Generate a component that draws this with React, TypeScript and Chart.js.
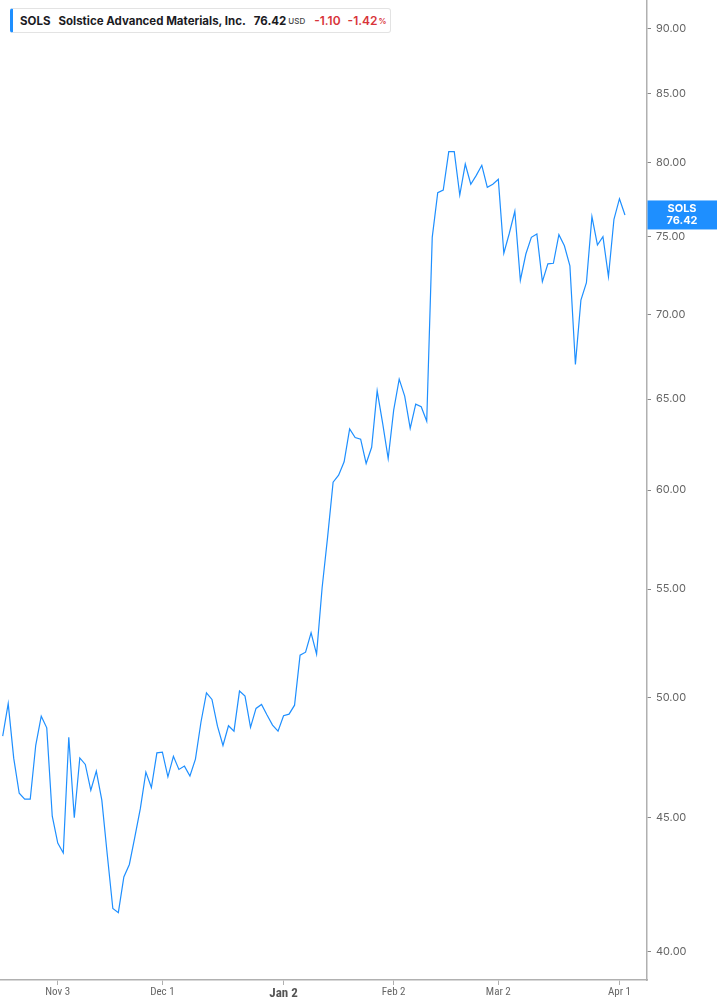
import React, { useEffect, useRef } from "react";
import { Chart, registerables } from "chart.js";

Chart.register(...registerables);

const symbol = "SOLS";
const companyName = "Solstice Advanced Materials, Inc.";
const lastPriceText = "76.42";
const changeText = "-1.10";
const changePctText = "-1.42";

// daily closes, Oct 20 .. Apr 2 (trading days)
const closes = [
  48.33, 49.73, 47.4, 45.96, 45.72, 45.72, 47.94, 49.18, 48.68, 45.04,
  43.99, 43.61, 48.28, 44.98, 47.41, 47.14, 46.08, 46.86, 45.68, 43.52,
  41.53, 41.38, 42.7, 43.17, 44.23, 45.35, 46.82, 46.19, 47.62, 47.65,
  46.63, 47.48, 46.93, 47.07, 46.66, 47.36, 48.92, 50.2, 49.91, 48.75,
  47.93, 48.77, 48.54, 50.28, 50.06, 48.7, 49.52, 49.69, 49.23, 48.8,
  48.54, 49.2, 49.27, 49.66, 51.89, 52.03, 52.92, 51.94, 55.05, 57.57,
  60.42, 60.79, 61.51, 63.32, 62.84, 62.75, 61.42, 62.3, 65.47, 63.62,
  61.69, 64.37, 66.15, 65.17, 63.34, 64.71, 64.56, 63.74, 74.93, 77.93,
  78.11, 80.79, 80.79, 77.77, 79.92, 78.51, 79.13, 79.83, 78.3, 78.51,
  78.85, 73.89, 75.2, 76.67, 72.16, 73.84, 74.93, 75.15, 72.07, 73.2,
  73.24, 75.11, 74.38, 73.07, 67.01, 70.91, 72.0, 76.31, 74.43, 74.97,
  72.39, 76.13, 77.52, 76.42,
];

const xTickIndex = [10, 29, 51, 71, 90, 112];
const xTickLabels = ["Nov 3", "Dec 1", "Jan 2", "Feb 2", "Mar 2", "Apr 1"];
const yTickValues = [40, 45, 50, 55, 60, 65, 70, 75, 80, 85, 90];

const BLUE = "#1e8fff";

export default function App() {
  const canvasRef = useRef<HTMLCanvasElement | null>(null);

  useEffect(() => {
    if (!canvasRef.current) return;
    const priceLabel = {
      id: "priceLabel",
      afterDraw(chart: any) {
        const ctx = chart.ctx;
        const ys = chart.scales.y;
        const area = chart.chartArea;
        const v = closes[closes.length - 1];
        const y = ys.getPixelForValue(v);
        ctx.save();
        ctx.fillStyle = BLUE;
        ctx.fillRect(area.right + 0.5, y - 14.5, chart.width - area.right, 29);
        ctx.fillStyle = "#ffffff";
        ctx.font = "bold 11px Inter, 'Noto Sans', sans-serif";
        ctx.textAlign = "center";
        ctx.textBaseline = "middle";
        const cx = (area.right + chart.width) / 2;
        ctx.fillText(symbol, cx, y - 6);
        ctx.fillText(v.toFixed(2), cx, y + 6);
        ctx.restore();
      },
    };

    const chart = new Chart(canvasRef.current, {
      type: "line",
      data: {
        datasets: [
          {
            data: closes.map((c, i) => ({ x: i, y: c })),
            borderColor: BLUE,
            borderWidth: 1.2,
            pointRadius: 0,
            tension: 0,
            fill: false,
          },
        ],
      },
      options: {
        animation: false,
        responsive: false,
        layout: { padding: 0 },
        plugins: {
          legend: { display: false },
          tooltip: { enabled: false },
        },
        scales: {
          x: {
            type: "linear",
            min: -0.49,
            max: 117,
            afterFit: (s: any) => {
              s.height = 25;
              s.paddingLeft = 0;
              s.paddingRight = 0;
            },
            afterBuildTicks: (s: any) => {
              s.ticks = xTickIndex.map((v) => ({ value: v }));
            },
            grid: {
              drawOnChartArea: false,
              drawTicks: true,
              tickLength: 5,
              color: "#b0b0b0",
              lineWidth: 1,
            },
            border: { display: true, color: "#b0b0b0", width: 1.5 },
            ticks: {
              autoSkip: false,
              maxRotation: 0,
              padding: 1,
              color: (ctx: any) =>
                ctx.tick && ctx.tick.value === 51 ? "#555555" : "#666666",
              font: (ctx: any) =>
                ctx.tick && ctx.tick.value === 51
                  ? { family: "'Liberation Sans Narrow', 'Roboto Condensed', Roboto, sans-serif", size: 13, weight: "bold" }
                  : { family: "'Liberation Sans Narrow', 'Roboto Condensed', Roboto, sans-serif", size: 11 },
              callback: (v: any) => {
                const k = xTickIndex.indexOf(Number(v));
                return k >= 0 ? xTickLabels[k] : "";
              },
            },
          },
          y: {
            type: "logarithmic",
            position: "right",
            min: 39.0,
            max: 92.32,
            afterFit: (s: any) => {
              s.width = 70;
              s.paddingTop = 0;
              s.paddingBottom = 0;
            },
            afterBuildTicks: (s: any) => {
              s.ticks = yTickValues.map((v) => ({ value: v }));
            },
            grid: {
              drawOnChartArea: false,
              drawTicks: true,
              tickLength: 4,
              color: "#888888",
              lineWidth: 1,
            },
            border: { display: true, color: "#b0b0b0", width: 1.5 },
            ticks: {
              autoSkip: false,
              padding: 5,
              color: "#666666",
              font: { family: "Inter, 'Noto Sans', sans-serif", size: 11 },
              callback: (v: any) => Number(v).toFixed(2),
            },
          },
        },
      },
      plugins: [priceLabel],
    });
    return () => chart.destroy();
  }, []);

  const font = "Inter, 'Noto Sans', sans-serif";
  return (
    <div
      style={{
        position: "fixed",
        left: 0,
        top: 0,
        width: 717,
        height: 1005,
        background: "#ffffff",
        overflow: "hidden",
      }}
    >
      <canvas
        ref={canvasRef}
        width={717}
        height={1005}
        style={{ position: "absolute", left: 0, top: 0, width: 717, height: 1005 }}
      />
      <div
        style={{
          position: "absolute",
          left: 10,
          top: 8,
          width: 381,
          height: 25,
          boxSizing: "border-box",
          border: "1px solid #e3e3e3",
          borderLeft: `3px solid ${BLUE}`,
          borderRadius: 3,
          background: "#ffffff",
          display: "flex",
          alignItems: "center",
          fontFamily: font,
          fontWeight: 700,
          fontSize: 11.5,
          color: "#1b1b1f",
          whiteSpace: "nowrap",
          paddingLeft: 7,
        }}
      >
        <span>{symbol}</span>
        <span style={{ marginLeft: 8 }}>{companyName}</span>
        <span style={{ marginLeft: 8 }}>{lastPriceText}</span>
        <span style={{ marginLeft: 2, fontSize: 8, fontWeight: 500, color: "#444" }}>USD</span>
        <span style={{ marginLeft: 9, color: "#d8343a", fontWeight: 600, fontSize: 12 }}>{changeText}</span>
        <span style={{ marginLeft: 7, color: "#d8343a", fontWeight: 600, fontSize: 12 }}>{changePctText}</span>
        <span style={{ marginLeft: 1, fontSize: 8, color: "#d8343a", fontWeight: 600 }}>%</span>
      </div>
    </div>
  );
}
